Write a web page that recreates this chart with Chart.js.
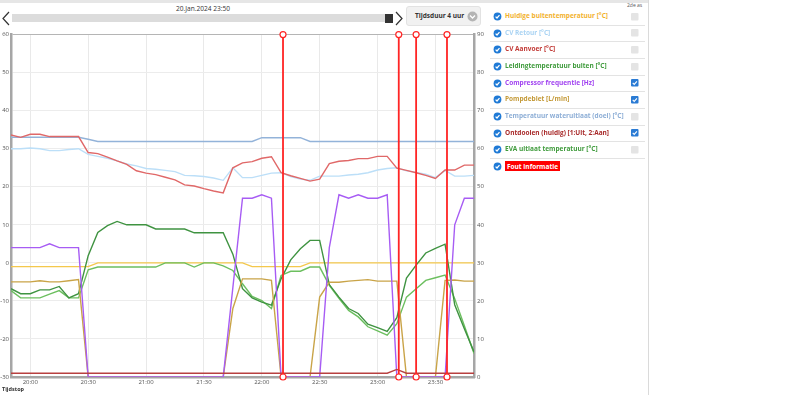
<!DOCTYPE html>
<html>
<head>
<meta charset="utf-8">
<script src="https://cdn.jsdelivr.net/npm/chart.js@4.4.1/dist/chart.umd.min.js"></script>
<style>
  body { margin: 0; width: 800px; height: 395px; background: #fff; font-family: 'Open Sans', sans-serif; position: relative; overflow: hidden; }
  .abs { position: absolute; }
  #topline { left: 0; top: 0; width: 648px; height: 3px; background: #e6e6e6; }
  #edge { left: 648px; top: 0; width: 1px; height: 395px; background: #dadada; }
  #date { left: 150px; top: 4px; width: 106px; text-align: center; font-size: 6.6px; color: #333; }
  #track { left: 12px; top: 14px; width: 378px; height: 8px; background: #dcdcdc; }
  #thumb { left: 385px; top: 14px; width: 8px; height: 9px; background: #333; }
  #btn { left: 406px; top: 6px; width: 73px; height: 18px; background: #f1f1f1; border: 1px solid #e2e2e2; border-radius: 3px; }
  #btn span { position: absolute; left: 8px; top: 4px; font-size: 6.5px; font-weight: 700; color: #333; }
  #chart { left: 0; top: 28px; }
  #tijdstop { left: 2px; top: 385px; font-size: 5.5px; font-weight: 700; color: #333; }
  #asLabel { left: 627px; top: 2px; font-size: 5px; color: #555; }
  .row { left: 490px; width: 155px; height: 16px; }
  .sep { left: 490px; width: 155px; height: 1px; background: #e3e3e3; }
  .row .txt { position: absolute; left: 15px; top: 3px; font-size: 6.5px; font-weight: 700; white-space: nowrap; }
  .row svg { position: absolute; }
  .fout { background: #ff0000; color: #fff; padding: 0.5px 2px; }
</style>
</head>
<body>
<div class="abs" id="topline"></div>
<div class="abs" id="edge"></div>
<div class="abs" id="date">20.Jan.2024 23:50</div>
<svg class="abs" style="left:0;top:10px" width="12" height="18"><polyline points="9,2 3,8.5 9,15" fill="none" stroke="#333" stroke-width="1.2"/></svg>
<div class="abs" id="track"></div>
<div class="abs" id="thumb"></div>
<svg class="abs" style="left:394px;top:10px" width="12" height="18"><polyline points="2,2 8,8.5 2,15" fill="none" stroke="#333" stroke-width="1.2"/></svg>
<div class="abs" id="btn"><span>Tijdsduur 4 uur</span>
  <svg style="position:absolute;left:60px;top:4px" width="11" height="11"><circle cx="5.5" cy="5.5" r="5" fill="#b4b4b4"/><polyline points="3,4.5 5.5,7 8,4.5" fill="none" stroke="#fff" stroke-width="1.3"/></svg>
</div>
<canvas class="abs" id="chart" width="495" height="367"></canvas>
<div class="abs" id="tijdstop">Tijdstop</div>
<div class="abs" id="asLabel">2de as</div>
<div id="legend"></div>

<script>
// ── Data ────────────────────────────────────────────────────────────────────

const times = [
  '19:50','19:55','20:00','20:05','20:10','20:15','20:20','20:25','20:30','20:35',
  '20:40','20:45','20:50','20:55','21:00','21:05','21:10','21:15','21:20','21:25',
  '21:30','21:35','21:40','21:45','21:50','21:55','22:00','22:05','22:10','22:15',
  '22:20','22:25','22:30','22:35','22:40','22:45','22:50','22:55','23:00','23:05',
  '23:10','23:15','23:20','23:25','23:30','23:35','23:40','23:45','23:50'
];
const tickLabels = ['20:00','20:30','21:00','21:30','22:00','22:30','23:00','23:30'];
const foutTimes  = ['22:11','23:11','23:20','23:36'];

const buitenTemp = [
  -1,-1,-1,-1,-1,-1,-1,-1,-1,0,
  0,0,0,0,0,0,0,0,0,0,
  0,0,0,0,0,-1,-1,-1,-1,-1,
  -1,0,0,0,0,0,0,0,0,0,
  0,0,0,0,0,0,0,0,0
];
const cvRetour = [
  30,30,30.2,30,29.5,29.5,29.8,30,28.5,28,
  27.5,26.8,26,25.5,24.8,24.6,24.3,24,23,22.9,
  22.7,22.3,21.7,25,22.4,22.4,23,23.6,23.7,22.7,
  22,21.7,22.8,22.8,22.8,23.1,23.3,23.7,24.4,24.8,
  25,24.2,23.8,23.3,22.4,24.3,22.8,22.8,23
];
const cvAanvoer = [
  33.6,33,33.8,33.8,33.2,33.2,33.2,33.2,29,28.7,
  27.8,26.8,25.9,24.2,23.6,23.2,22.5,21.8,20.5,20.2,
  19.5,18.9,18.4,25,26.3,26.6,27.5,27.9,23.7,22.9,
  22.2,21.5,22,26.1,26.7,26.9,27.4,27.4,28,28,
  24.9,24.3,23.7,23,22.2,24.4,24.4,25.7,25.7
];
const leidingBuiten = [
  -7.3,-9.2,-9.2,-9.2,-8.2,-7.3,-9.2,-9.2,-1.8,-1.1,
  -1.1,-1.1,-1.1,-1.1,-1.1,-1.1,0,0,0,-1.1,
  0,0,-0.8,-2,-5.5,-8.8,-9.9,-12,-3.3,-2.2,
  -2.2,-1.1,-1.1,-5.9,-9.3,-12.5,-14.2,-16.8,-17.9,-19,
  -16,-9,-6.8,-4.6,-3.9,-3.2,-9.4,-16.5,-23.8
];
const compressorHz = [
  34,34,34,34,35,34,34,34,0,0,
  0,0,0,0,0,0,0,0,0,0,
  0,0,0,23.5,47,47,47.9,47,0,0,
  0,0,0,34,47.9,47,47.9,47,47,47.9,
  0,0,0,0,0,0,40,47,47
];
const pompdebiet = [
  25,25,25,25.3,25,25,25.3,25.6,0,0,
  0,0,0,0,0,0,0,0,0,0,
  0,0,0,18,25.8,25.8,25.8,25.4,0,0,
  0,0,21,24.9,24.9,25.2,25.4,25.6,25.2,25.2,
  25.2,0,0,0,0,25.4,25.5,25.2,25.2
];
const wateruitlaatDoel = [
  33,33,33,33,33,33,33,33,32.5,31.9,
  31.9,31.9,31.9,31.9,31.9,31.9,31.9,31.9,31.9,31.9,
  31.9,31.9,31.9,31.9,31.9,31.9,32.9,32.9,32.9,32.9,
  32.9,31.9,31.9,31.9,31.9,31.9,31.9,31.9,31.9,31.9,
  31.9,31.9,31.9,31.9,31.9,31.9,31.9,31.9,31.9
];
const ontdooien = [
  1,1,1,1,1,1,1,1,1,1,
  1,1,1,1,1,1,1,1,1,1,
  1,1,1,1,1,1,1,1,1,1,
  1,1,1,1,1,1,1,1,1,1,
  2,1,1,1,1,1,1,1,1
];
const evaUitlaat = [
  -6.8,-8.1,-8.1,-7.1,-7.1,-6.2,-9.2,-8.1,1.9,8,
  9.8,10.9,10,10,10,8.9,8.9,8.9,8.9,7.9,
  7.9,7.9,7.9,2.3,-6.8,-9.2,-10.3,-11.1,-4.2,0.8,
  3.7,5.9,5.9,-5.7,-9,-12,-13.3,-16.1,-17,-18,
  -14.4,-4,-0.6,2.6,3.8,4.9,-11,-17.3,-23.4
];

// ── Legend ──────────────────────────────────────────────────────────────────

const legendRows = [
  { label: 'Huidige buitentemperatuur [°C]',        color: '#f2b22e', second: false },
  { label: 'CV Retour [°C]',                        color: '#a9d3f3', second: false },
  { label: 'CV Aanvoer [°C]',                       color: '#c23a36', second: false },
  { label: 'Leidingtemperatuur buiten [°C]',        color: '#3f9b3c', second: false },
  { label: 'Compressor frequentie [Hz]',            color: '#a042f0', second: true  },
  { label: 'Pompdebiet [L/min]',                    color: '#c49a38', second: true  },
  { label: 'Temperatuur wateruitlaat (doel) [°C]',  color: '#8daed6', second: false },
  { label: 'Ontdooien (huidig) [1:Uit, 2:Aan]',     color: '#a82a2a', second: true  },
  { label: 'EVA uitlaat temperatuur [°C]',          color: '#3f9b3c', second: false },
  { label: 'Fout informatie',                       color: '#fff',    second: null, fout: true }
];

const legendEl = document.getElementById('legend');
legendRows.forEach((r, i) => {
  const cy = 16 + 16.67 * i;
  const row = document.createElement('div');
  row.className = 'abs row';
  row.style.top = (cy - 8) + 'px';
  let html = '<svg style="left:3px;top:4px" width="9" height="9"><circle cx="4.5" cy="4.5" r="3.9" fill="#1f7ad6"/>' +
             '<polyline points="2.6,4.6 4,6 6.5,3.1" fill="none" stroke="#fff" stroke-width="1.2"/></svg>';
  html += r.fout
    ? '<span class="txt"><span class="fout">' + r.label + '</span></span>'
    : '<span class="txt" style="color:' + r.color + '">' + r.label + '</span>';
  if (r.second === true) {
    html += '<svg style="left:141px;top:4.5px" width="8" height="8"><rect x="0" y="0" width="7.5" height="7.5" rx="1" fill="#2a7bd4"/>' +
            '<polyline points="1.7,3.9 3.2,5.4 5.9,2.3" fill="none" stroke="#fff" stroke-width="1.1"/></svg>';
  } else if (r.second === false) {
    html += '<svg style="left:141px;top:4.5px" width="8" height="8"><rect x="0" y="0" width="7.5" height="7.5" rx="1" fill="#e4e4e4"/></svg>';
  }
  row.innerHTML = html;
  legendEl.appendChild(row);
  if (i < legendRows.length - 1) {
    const sep = document.createElement('div');
    sep.className = 'abs sep';
    sep.style.top = (cy + 8.6) + 'px';
    legendEl.appendChild(sep);
  }
});

// ── Chart ───────────────────────────────────────────────────────────────────

const toMin = s => { const [h, m] = s.split(':').map(Number); return h * 60 + m - (19 * 60 + 50); };
const pts = arr => times.map((t, i) => ({ x: toMin(t), y: arr[i] }));
const foutPts = foutTimes.flatMap(t => [
  { x: toMin(t), y: -30 }, { x: toMin(t), y: 60 }, { x: toMin(t), y: null }
]);

const line = (label, data, color, axis, width) => ({
  label, data: pts(data), borderColor: color, backgroundColor: color,
  yAxisID: axis, borderWidth: width || 1.4, pointRadius: 0, tension: 0, fill: false
});

const tickFont = { family: 'Open Sans', size: 6 };
const axisBorder = { color: '#a6a6a6', width: 2.5 };

new Chart(document.getElementById('chart'), {
  type: 'line',
  data: {
    datasets: [
      {
        label: 'Fout informatie', data: foutPts, yAxisID: 'y',
        borderColor: '#ff2525', borderWidth: 1.8, spanGaps: false, clip: false,
        pointRadius: 3, pointBackgroundColor: '#fff', pointBorderColor: '#ff2525', pointBorderWidth: 1.2
      },
      line('Ontdooien (huidig) [1:Uit, 2:Aan]',    ontdooien,        '#b84040', 'y2'),
      line('Compressor frequentie [Hz]',           compressorHz,     '#a75cf4', 'y2'),
      line('Pompdebiet [L/min]',                   pompdebiet,       '#c9a448', 'y2'),
      line('EVA uitlaat temperatuur [°C]',         evaUitlaat,       '#3f9341', 'y'),
      line('Leidingtemperatuur buiten [°C]',       leidingBuiten,    '#6cbf5f', 'y'),
      line('CV Aanvoer [°C]',                      cvAanvoer,        '#e06868', 'y'),
      line('Temperatuur wateruitlaat (doel) [°C]', wateruitlaatDoel, '#93b3d9', 'y'),
      line('CV Retour [°C]',                       cvRetour,         '#bcdff8', 'y'),
      line('Huidige buitentemperatuur [°C]',       buitenTemp,       '#f4c84c', 'y')
    ]
  },
  options: {
    responsive: false,
    animation: false,
    layout: { padding: { top: 5 } },
    plugins: { legend: { display: false }, tooltip: { enabled: false } },
    scales: {
      x: {
        type: 'linear', min: 0, max: 240,
        afterBuildTicks: s => { s.ticks = tickLabels.map(l => ({ value: toMin(l) })); },
        afterFit: s => { s.height = 18; },
        ticks: {
          font: tickFont, color: '#555', padding: 2, maxRotation: 0, autoSkip: false,
          callback: v => tickLabels.find(l => toMin(l) === v) || ''
        },
        grid: { color: '#e9e9e9', drawTicks: false },
        border: axisBorder
      },
      y: {
        position: 'left', min: -30, max: 60,
        afterFit: s => { s.width = 11; },
        ticks: { stepSize: 10, font: tickFont, color: '#555', padding: 2 },
        grid: { color: c => c.tick && c.tick.value === 60 ? '#b5b5b5' : '#ececec', drawTicks: false },
        border: axisBorder
      },
      y2: {
        position: 'right', min: 0, max: 90,
        afterFit: s => { s.width = 21; },
        ticks: { stepSize: 10, font: tickFont, color: '#555', padding: 3 },
        grid: { display: false, drawTicks: false },
        border: axisBorder
      }
    }
  }
});
</script>
</body>
</html>
